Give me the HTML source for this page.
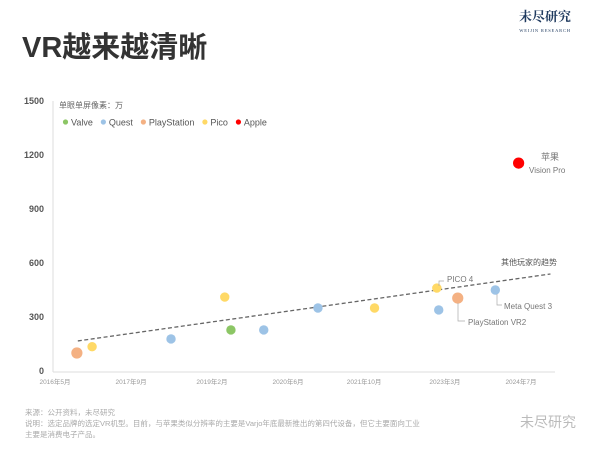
<!DOCTYPE html>
<html><head><meta charset="utf-8"><style>
body{margin:0;width:600px;height:450px;background:#fff;overflow:hidden;font-family:"Liberation Sans","Noto Sans CJK SC",sans-serif;}
svg{display:block}
</style></head><body>
<svg id="chart" width="600" height="450" xmlns="http://www.w3.org/2000/svg">
<text x="22" y="57" font-size="29" font-weight="bold" fill="#333" font-family="Liberation Sans,Noto Sans CJK SC,sans-serif">VR越来越清晰</text>
<text x="545" y="21" font-size="13" font-weight="bold" fill="#1f3a5f" text-anchor="middle" font-family="Noto Serif CJK SC,serif">未尽研究</text>
<text x="545" y="32" font-size="4.5" fill="#1f3a5f" text-anchor="middle" letter-spacing="0.8" font-family="Liberation Serif,serif">WEIJIN RESEARCH</text>
<text x="59" y="108" font-size="8" fill="#666">单眼单屏像素：万</text>
<g id="legend"></g>
<g id="yaxis"></g>
<g id="xaxis"></g>
<g id="trend"></g>
<g id="points"></g>
<g id="labels"></g>
<text x="25" y="415" font-size="7.5" fill="#aaa">来源：公开资料，未尽研究</text>
<text x="25" y="426" font-size="7.5" fill="#aaa">说明：选定品牌的选定VR机型。目前，与苹果类似分辨率的主要是Varjo年底最新推出的第四代设备，但它主要面向工业</text>
<text x="25" y="437" font-size="7.5" fill="#aaa">主要是消费电子产品。</text>
<text x="520" y="427" font-size="14" fill="#bbb">未尽研究</text>
</svg>
<script>
const yTicks=[0,300,600,900,1200,1500];
const xTickLabels=["2016年5月","2017年9月","2019年2月","2020年6月","2021年10月","2023年3月","2024年7月"];
const xTickMonths=[0,16,33,49,65,82,98];
const brands=["Valve","Quest","PlayStation","Pico","Apple"];
const brandColors=["#8cc665","#9dc3e6","#f4b183","#ffd966","#ff0000"];
const pointMonths=[4.6,7.8,24.4,35.7,37,43.9,55.3,67.2,80.7,80.3,84.7,92.6,97.5];
const pointValues=[100,135,178,411,228,228,350,350,339,461,405,450,1155];
const pointBrands=[2,3,1,3,0,1,1,3,1,3,2,1,4];
const trendMonths=[4.8,104.2];
const trendValues=[167,539];
const NS="http://www.w3.org/2000/svg";
const X=m=>55+m*4.755, Y=v=>371-v*0.18;
function mk(p,t,a,txt){const e=document.createElementNS(NS,t);for(const k in a)e.setAttribute(k,a[k]);if(txt!=null)e.textContent=txt;document.getElementById(p).appendChild(e);return e;}
mk("yaxis","line",{x1:53,y1:101,x2:53,y2:372,stroke:"#ddd","stroke-width":1});
yTicks.forEach(v=>{const t=mk("yaxis","text",{x:44,y:Y(v)+3,"font-size":9,"font-weight":"bold",fill:"#555","text-anchor":"end"},v);

});
mk("xaxis","line",{x1:53,y1:372,x2:555,y2:372,stroke:"#ddd","stroke-width":1});
xTickLabels.forEach((l,i)=>{const t=mk("xaxis","text",{x:X(xTickMonths[i]),y:384,"font-size":6.5,fill:"#999","text-anchor":"middle"},l);

});
let lx=63;
brands.forEach((b,i)=>{const c=mk("legend","circle",{cx:lx+2.5,cy:122,r:2.6,fill:brandColors[i]});


const t=mk("legend","text",{x:lx+8,y:125.5,"font-size":9,fill:"#555"},b);


lx+=8+t.getComputedTextLength()+8;});
const tl=mk("trend","line",{x1:X(trendMonths[0]),y1:Y(trendValues[0]),x2:X(trendMonths[1]),y2:Y(trendValues[1]),stroke:"#666","stroke-width":1.3,"stroke-dasharray":"4,2.5"});


pointMonths.forEach((m,i)=>{const b=pointBrands[i];const r=(b===2||b===4)?5.6:4.7;
const c=mk("points","circle",{cx:X(m),cy:Y(pointValues[i]),r:r,fill:brandColors[b]});

});
const ann=[["苹果",541,160,9,"#777"],["Vision Pro",529,173,8,"#777"],["其他玩家的趋势",501,265,8,"#555"],["PICO 4",447,282,8,"#777"],["Meta Quest 3",504,309,8,"#777"],["PlayStation VR2",468,325,8,"#777"]];
ann.forEach(a=>{const t=mk("labels","text",{x:a[1],y:a[2],"font-size":a[3],fill:a[4]},a[0]);

});
const leaders=["M439,286 L439,281 L444,281","M497,294 L497,305 L502,305","M458,303 L458,321 L465,321"];
leaders.forEach(d=>{const p=mk("labels","path",{d:d,stroke:"#aaa",fill:"none","stroke-width":0.7});

});
</script>
</body></html>
